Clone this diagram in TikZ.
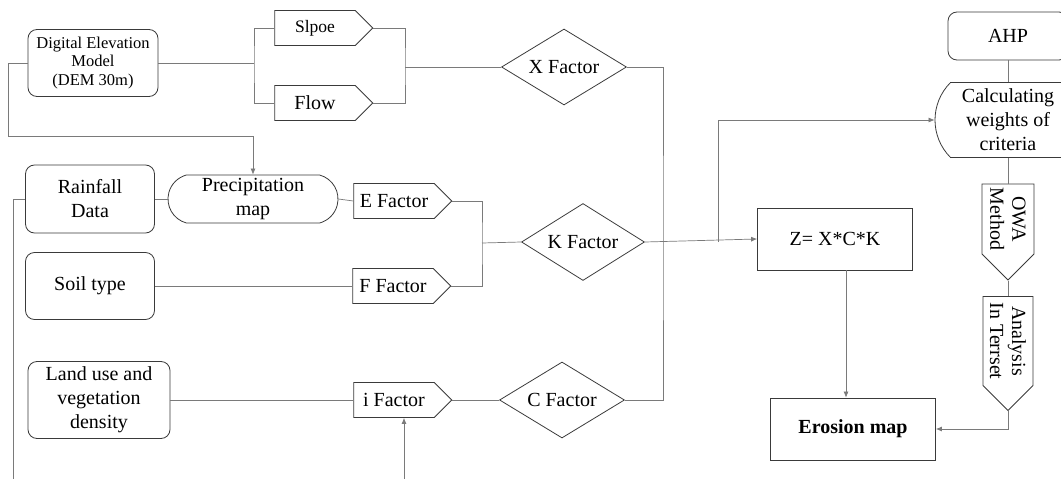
\documentclass[tikz,border=0pt]{standalone}
\usepackage{fontspec}
\setmainfont{Liberation Serif}
\usepackage{tikz}
\usetikzlibrary{arrows.meta, positioning, shapes.geometric, shapes.symbols, shapes.misc}
\usepackage{xcolor}
\definecolor{edgegray}{HTML}{3A3A3A}
\definecolor{linkgray}{HTML}{7A7A7A}

\begin{document}
\begin{tikzpicture}[x=1pt, y=-1pt,
      base/.style={draw=edgegray, line width=0.8pt, inner sep=0pt, align=center, font=\fontsize{20}{24}\selectfont},
      databox/.style={base, rectangle, rounded corners=9pt},
      mapbox/.style={base, rounded rectangle, rounded rectangle arc length=150},
      factor/.style={base, signal, signal to=east, minimum width=98pt, minimum height=35pt},
      weight/.style={base, diamond, aspect=1.65, minimum width=125pt, minimum height=76pt},
      result/.style={base, rectangle},
      methodbox/.style={factor, rotate=-90, font=\fontsize{20}{22}\selectfont},
      link/.style={linkgray, line width=0.7pt},
      arrow/.style={link, -{Latex[length=6pt, width=5pt]}},
    ]
    \clip (0,0) rectangle (1061,479);

    \node[databox, minimum width=130pt, minimum height=67pt, font=\fontsize{16.5}{18.5}\selectfont] (dem) at (93,63) {Digital Elevation\\Model\\(DEM 30m)};
    \node[factor, font=\fontsize{17.5}{20}\selectfont] (slope) at (315,28) {Slpoe};
    \node[factor] (flow) at (315,103) {Flow};
    \node[weight] (xf) at (564,67) {X Factor};

    \node[databox, minimum width=129pt, minimum height=68pt] (rain) at (90,199) {Rainfall\\Data};
    \node[mapbox, minimum width=170pt, minimum height=48pt] (precip) at (253,199) {Precipitation\\map};
    \node[factor] (ef) at (394,201) {E Factor};
    \node[databox, minimum width=129pt, minimum height=67pt] (soil) at (90,286) {Soil type};
    \node[factor] (ff) at (393,286) {F Factor};
    \node[weight, minimum width=123pt, minimum height=77pt] (kf) at (583,242) {K Factor};

    \node[databox, minimum width=142pt, minimum height=77pt] (land) at (99,400) {Land use and\\vegetation\\density};
    \node[factor] (ifac) at (394,400) {i Factor};
    \node[weight] (cf) at (562,400) {C Factor};

    \node[result, minimum width=155pt, minimum height=62pt] (zbox) at (835,239) {Z= X*C*K};
    \node[result, minimum width=165pt, minimum height=62pt, font=\fontsize{20}{24}\selectfont\bfseries] (erosion) at (853,429) {Erosion map};
    \node[databox, minimum width=120pt, minimum height=48pt] (ahp) at (1008,36) {AHP};
    \node[mapbox, rounded rectangle arc length=90, minimum width=146pt, minimum height=75pt] (calc) at (1008,120) {Calculating\\weights of\\criteria};
    \node[methodbox, minimum width=96pt, minimum height=52pt] (owa) at (1008,219) {OWA\\Method};
    \node[methodbox, minimum width=114pt, minimum height=50pt] (terrset) at (1008,341) {Analysis\\In Terrset};

    \coordinate (demturn) at (8,136);
    \coordinate (lsplit) at (254,63);
    \coordinate (rsplit) at (405,67);
    \coordinate (ekjoin) at (482,243);
    \coordinate (xcjoin) at (663,242);
    \coordinate (kbranch) at (718,242);
    \coordinate (rainout) at (13,479);
    \coordinate (iin) at (404,479);

    \draw[arrow] (dem.west) -| (demturn) -| (precip.north);
    \draw[link] (dem.east) -- (lsplit);
    \draw[link] (slope.west) -| (lsplit) |- (flow.west);
    \draw[link] (slope.east) -| (rsplit) |- (flow.east);
    \draw[link] (rsplit) -- (xf.west);

    \draw[link] (rain.east) -- (precip.west);
    \draw[link] (precip.east) -- (ef.west);
    \draw[link] (rain.west) -| (rainout);
    \draw[link] (soil.east) -- (ff.west);
    \draw[link] (ef.east) -| (ekjoin) |- (ff.east);
    \draw[link] (ekjoin) -- (kf.west);

    \draw[link] (land.east) -- (ifac.west);
    \draw[arrow] (iin) -- (iin |- ifac.south);
    \draw[link] (ifac.east) -- (cf.west);
    \draw[link] (xf.east) -| (xcjoin) |- (cf.east);

    \draw[arrow] (kf.east) -- (zbox.west);
    \draw[arrow] (kbranch) |- (calc.west);
    \draw[arrow] ([xshift=11pt]zbox.south) -- ([xshift=11pt]zbox.south |- erosion.north);
    \draw[link] (ahp.south) -- (calc.north);
    \draw[link] (calc.south) -- (owa.west);
    \draw[link] (owa.east) -- (terrset.west);
    \draw[arrow] (terrset.east) |- (erosion.east);
  \end{tikzpicture}
\end{document}
